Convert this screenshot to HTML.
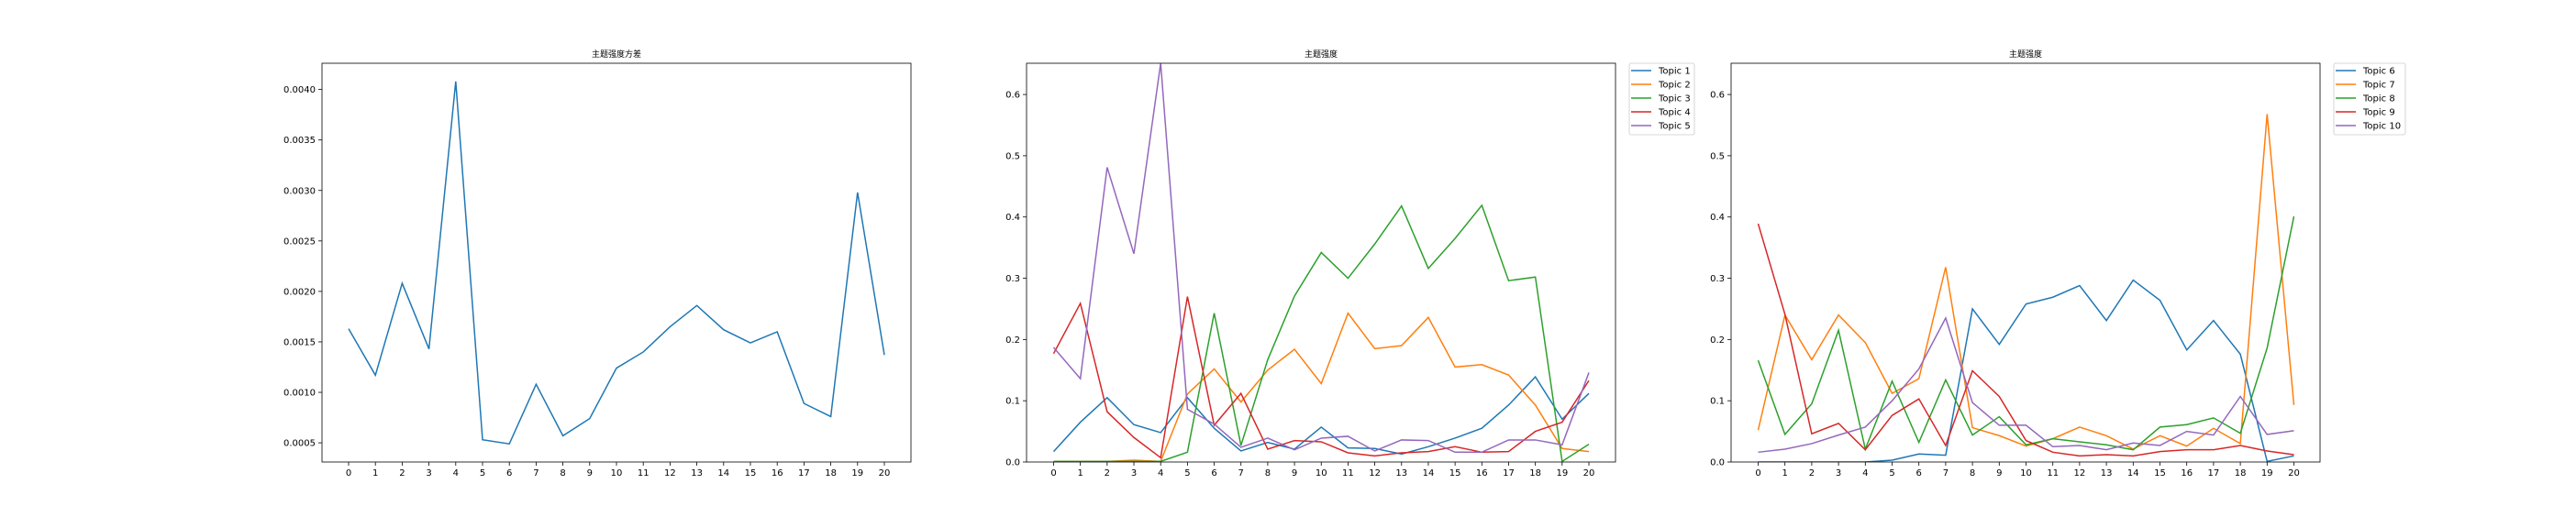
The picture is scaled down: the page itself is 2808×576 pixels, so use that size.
<!DOCTYPE html>
<html><head><meta charset="utf-8"><style>
body{margin:0;background:#fff;}
svg{display:block;font-family:"DejaVu Sans","Liberation Sans","Noto Sans CJK SC",sans-serif;}
</style></head><body>
<svg id="fig" width="2808" height="576" viewBox="0 0 2808 576" xmlns="http://www.w3.org/2000/svg"></svg>
<script>
const xCats = [0,1,2,3,4,5,6,7,8,9,10,11,12,13,14,15,16,17,18,19,20];
const varianceValues = [0.00163,0.00117,0.00208,0.00143,0.00408,0.00053,0.00049,0.00108,0.00057,0.00074,0.00124,0.0014,0.00165,0.00186,0.00162,0.00149,0.0016,0.00089,0.00076,0.00298,0.00137];
const varianceTicks = [0.0005,0.0010,0.0015,0.0020,0.0025,0.0030,0.0035,0.0040];
const varianceTickLabels = ["0.0005","0.0010","0.0015","0.0020","0.0025","0.0030","0.0035","0.0040"];
const topic1 = [.017,.065,.105,.061,.048,.105,.055,.018,.032,.021,.057,.023,.022,.013,.025,.039,.055,.093,.139,.07,.112];
const topic2 = [.001,.001,.001,.003,.001,.111,.152,.098,.15,.184,.128,.243,.185,.19,.236,.155,.159,.142,.093,.022,.017];
const topic3 = [.001,.001,.001,.001,.001,.016,.243,.027,.167,.271,.342,.3,.356,.418,.316,.365,.419,.296,.302,.001,.029];
const topic4 = [.177,.259,.082,.04,.007,.27,.06,.112,.021,.035,.033,.015,.01,.015,.017,.025,.016,.017,.05,.065,.133];
const topic5 = [.187,.136,.481,.34,.651,.086,.062,.024,.039,.02,.039,.042,.018,.036,.035,.016,.016,.036,.036,.028,.146];
const topic6 = [0,0,0,0,0,.003,.013,.011,.25,.192,.258,.269,.288,.231,.297,.264,.183,.231,.176,.001,.01];
const topic7 = [.052,.24,.167,.24,.195,.112,.136,.318,.056,.043,.026,.038,.057,.043,.021,.043,.026,.055,.03,.568,.093];
const topic8 = [.166,.045,.095,.215,.021,.132,.032,.134,.044,.074,.028,.038,.033,.028,.02,.057,.061,.072,.047,.186,.401];
const topic9 = [.389,.241,.046,.063,.02,.076,.103,.027,.149,.107,.035,.016,.01,.012,.01,.017,.02,.02,.027,.018,.012];
const topic10 = [.016,.021,.03,.044,.057,.1,.152,.235,.097,.06,.06,.025,.027,.02,.031,.027,.05,.044,.107,.045,.051];
const strengthTicks = [0.0,0.1,0.2,0.3,0.4,0.5,0.6];
const strengthTickLabels = ["0.0","0.1","0.2","0.3","0.4","0.5","0.6"];
const legend1 = ["Topic 1","Topic 2","Topic 3","Topic 4","Topic 5"];
const legend2 = ["Topic 6","Topic 7","Topic 8","Topic 9","Topic 10"];
const colors = ["#1f77b4","#ff7f0e","#2ca02c","#d62728","#9467bd"];

const NS="http://www.w3.org/2000/svg";
const svg=document.getElementById('fig');
function mk(tag,attrs,parent){const e=document.createElementNS(NS,tag);for(const k in attrs)e.setAttribute(k,attrs[k]);(parent||svg).appendChild(e);return e;}

function panel(cfg){
  const g=mk('g',{});
  
  
  const L=cfg.left,R=cfg.right,T=69,B=504;
  const xs=i=>cfg.x0+(cfg.x20-cfg.x0)*i/20;
  const ys=v=>B-(v-cfg.ymin)/(cfg.ymax-cfg.ymin)*(B-T);
  const t=mk('text',{x:(L+R)/2,y:62,'font-size':'9','text-anchor':'middle',fill:'#000'},g);
  t.textContent=cfg.title;
  
  
  xCats.forEach((c,i)=>{
    mk('line',{x1:xs(i),x2:xs(i),y1:B,y2:B+4,stroke:'#000','stroke-width':0.8},g);
    const lb=mk('text',{x:xs(i),y:519,'font-size':'10','text-anchor':'middle',fill:'#000'},g);
    lb.textContent=c;
    
    
  });
  cfg.ticks.forEach((v,i)=>{
    const y=ys(v);
    mk('line',{x1:L-4,x2:L,y1:y,y2:y,stroke:'#000','stroke-width':0.8},g);
    const lb=mk('text',{x:L-7,y:y+3.5,'font-size':'10','text-anchor':'end',fill:'#000'},g);
    lb.textContent=cfg.tickLabels[i];
    
    
  });
  const clipId='c'+cfg.name;
  const cp=mk('clipPath',{id:clipId},g);mk('rect',{x:L,y:T,width:R-L,height:B-T},cp);
  cfg.series.forEach((s,k)=>{
    const d=s.map((v,i)=>(i?'L':'M')+xs(i).toFixed(2)+','+ys(v).toFixed(2)).join('');
    const p=mk('path',{d:d,fill:'none',stroke:colors[k],'stroke-width':1.5,'clip-path':'url(#'+clipId+')'},g);
    
    
  });
  mk('rect',{x:L,y:T,width:R-L,height:B-T,fill:'none',stroke:'#000','stroke-width':0.8},g);
  if(cfg.legend){
    const lg=mk('g',{},g);
    
    
    const lx=R+15;
    mk('rect',{x:lx,y:69,width:cfg.legendW,height:78,rx:2,fill:'#fff',stroke:'#ccc','stroke-width':0.8},lg);
    cfg.legend.forEach((n,k)=>{
      const y=77+k*15;
      mk('line',{x1:lx+2,x2:lx+24,y1:y,y2:y,stroke:colors[k],'stroke-width':1.5},lg);
      const tx=mk('text',{x:lx+32,y:y+3.5,'font-size':'10',fill:'#000'},lg);
      tx.textContent=n;
      
      
    });
  }
}
panel({name:'variance-chart',title:'主题强度方差',left:351,right:993,x0:380,x20:964,ymin:0.00031,ymax:0.00426,ticks:varianceTicks,tickLabels:varianceTickLabels,series:[varianceValues]});
panel({name:'topics-1-5-chart',title:'主题强度',left:1119,right:1761,x0:1148.5,x20:1732,ymin:0,ymax:0.651,ticks:strengthTicks,tickLabels:strengthTickLabels,series:[topic1,topic2,topic3,topic4,topic5],legend:legend1,legendW:71});
panel({name:'topics-6-10-chart',title:'主题强度',left:1887,right:2529,x0:1916.5,x20:2500.5,ymin:0,ymax:0.651,ticks:strengthTicks,tickLabels:strengthTickLabels,series:[topic6,topic7,topic8,topic9,topic10],legend:legend2,legendW:78});
</script>
</body></html>
